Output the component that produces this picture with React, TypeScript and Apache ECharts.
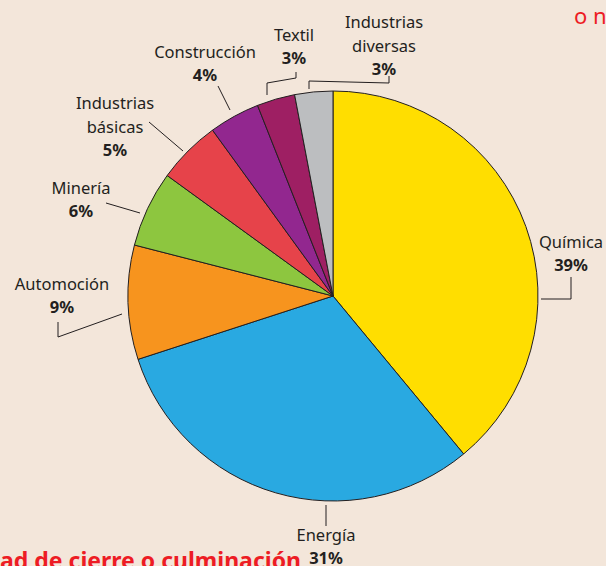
import React, { useEffect, useRef } from "react";
import * as echarts from "echarts";

const categories = [
  "Química",
  "Energía",
  "Automoción",
  "Minería",
  "Industrias\nbásicas",
  "Construcción",
  "Textil",
  "Industrias\ndiversas",
];
const shares = [39, 31, 9, 6, 5, 4, 3, 3];
const sliceColors = [
  "#FFDE00",
  "#29A9E1",
  "#F7941E",
  "#8DC63F",
  "#E6434A",
  "#92278F",
  "#9E1F63",
  "#BCBEC0",
];
// label block centres (annotation placement)
const labelPos: number[][] = [
  [571, 253],
  [326, 546],
  [62, 295],
  [81, 199],
  [115, 126],
  [205, 63],
  [294, 46],
  [384, 45],
];
// leader lines (annotation placement)
const leaderLines: number[][][] = [
  [[541, 299], [571, 299], [571, 277]],
  [[326, 505], [326, 526]],
  [[122, 314], [58, 337], [58, 322]],
  [[140, 213], [106, 203]],
  [[183, 151], [149, 122]],
  [[230, 110], [218, 86]],
  [[267, 95], [267, 83], [296, 78], [296, 72]],
  [[309, 89], [309, 81], [389, 83], [389, 76]],
];

export default function App() {
  const ref = useRef<HTMLDivElement>(null);
  useEffect(() => {
    document.body.style.margin = "0";
    if (!ref.current) return;
    const chart = echarts.init(ref.current, null, { renderer: "svg" });
    const font = "'Noto Sans', 'Open Sans', sans-serif";
    chart.setOption({
      animation: false,
      backgroundColor: "#F3E6DA",
      graphic: [
        ...leaderLines.map((pts) => ({
          type: "polyline",
          shape: { points: pts },
          style: { stroke: "#231F20", lineWidth: 1, fill: null },
          z: 10,
        })),
        {
          type: "text",
          x: 0,
          y: 560,
          style: {
            text: "ad de cierre o culminación",
            fill: "#ED1C24",
            font: `bold 23px ${font}`,
            align: "left",
            verticalAlign: "middle",
          },
        },
        {
          type: "text",
          x: 574,
          y: 15,
          style: {
            text: "o n",
            fill: "#ED1C24",
            font: `22px ${font}`,
            align: "left",
            verticalAlign: "middle",
          },
        },
      ],
      series: [
        {
          type: "pie",
          center: [333, 296],
          radius: 205,
          startAngle: 90,
          clockwise: true,
          avoidLabelOverlap: false,
          itemStyle: { borderColor: "#231F20", borderWidth: 1 },
          emphasis: { disabled: true },
          data: categories.map((c, i) => ({
            name: c,
            value: shares[i],
            itemStyle: { color: sliceColors[i] },
          })),
          label: {
            show: true,
            position: "outside",
            formatter: (p: any) =>
              String(p.name)
                .split("\n")
                .map((l: string) => `{n|${l}}`)
                .join("\n") + `\n{p|${p.value}%}`,
            rich: {
              n: { fontFamily: font, fontSize: 16.5, color: "#231F20", lineHeight: 23.5 },
              p: {
                fontFamily: font,
                fontSize: 16.5,
                fontWeight: "bold",
                color: "#231F20",
                lineHeight: 23.5,
              },
            },
            align: "center",
          },
          labelLine: { show: false },
          labelLayout: (params: any) => {
            const pos = labelPos[params.dataIndex];
            return {
              x: pos[0],
              y: pos[1],
              align: "center",
              verticalAlign: "middle",
            };
          },
        },
      ],
    });
    return () => chart.dispose();
  }, []);
  return <div ref={ref} style={{ width: 606, height: 566 }} />;
}
